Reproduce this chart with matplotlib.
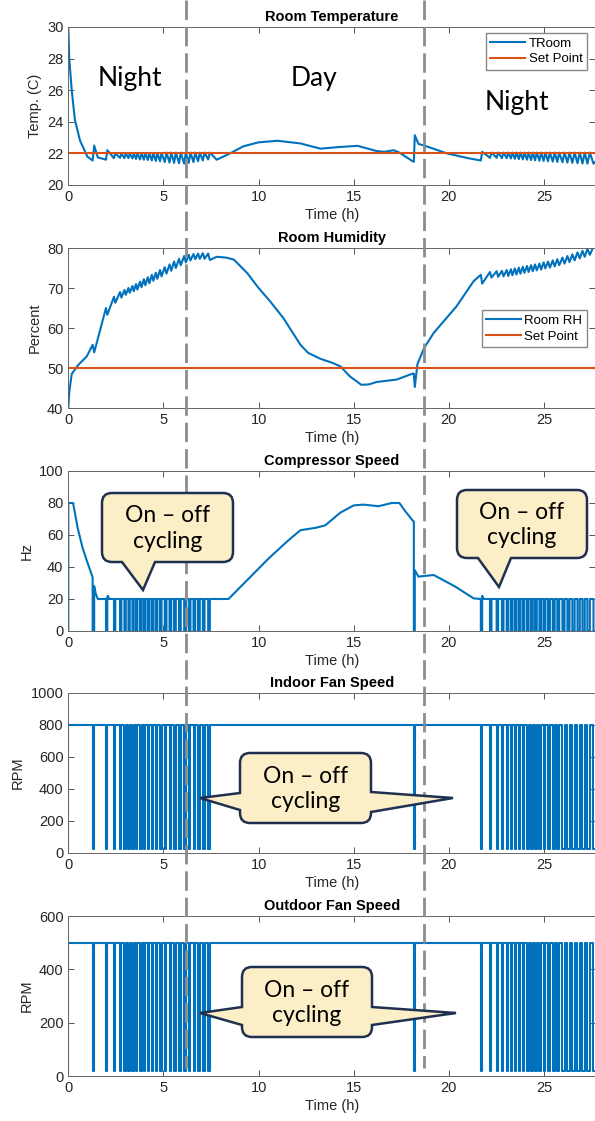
import numpy as np
import matplotlib
matplotlib.use('Agg')
import matplotlib.pyplot as plt
from matplotlib.path import Path
from matplotlib.patches import PathPatch
from matplotlib.lines import Line2D
import matplotlib.transforms as mtransforms

plt.rcParams['font.family'] = ['Liberation Sans', 'DejaVu Sans']

# ---- data ----
# off pulses of compressor / fans (start time h, off length h)
left_t = [1.28, 1.98, 2.40, 2.72, 2.95, 3.16, 3.37, 3.56, 3.77, 3.97, 4.18, 4.39,
          4.60, 4.82, 5.07, 5.32, 5.56, 5.82, 6.09, 6.33, 6.58, 6.82, 7.07, 7.35]
left_d = [0.08, 0.07, 0.07, 0.07, 0.07, 0.07, 0.07, 0.07, 0.08, 0.08, 0.08, 0.08,
          0.08, 0.08, 0.09, 0.09, 0.09, 0.09, 0.09, 0.09, 0.09, 0.09, 0.09, 0.09]
mid_t = [18.16]
mid_d = [0.05]
right_t = [21.68, 22.16, 22.51, 22.79, 23.04, 23.26, 23.47, 23.68, 23.89, 24.11, 24.32, 24.53,
           24.76, 24.98, 25.21, 25.46, 25.70, 25.97, 26.23, 26.49, 26.76, 27.02, 27.28, 27.60]
right_d = [0.07, 0.08, 0.08, 0.08, 0.08, 0.08, 0.08, 0.08, 0.08, 0.08, 0.09, 0.09,
           0.09, 0.09, 0.10, 0.10, 0.10, 0.11, 0.11, 0.12, 0.12, 0.12, 0.13, 0.20]

# room temperature: smooth parts, then value before / after each off pulse
temp_seg_t = [0, 0.05, 0.18, 0.35, 0.62, 1.0, 1.55,
              7.8, 8.5, 9.2, 10.0, 11.0, 12.2, 13.25, 14.2, 15.2, 16.2, 16.6, 17.1, 17.4, 18.1,
              18.4, 18.7, 19.9, 21.0, 27.8]
temp_seg_v = [30, 28, 26, 24.1, 22.8, 21.8, 21.75,
              21.6, 22.0, 22.45, 22.7, 22.8, 22.63, 22.3, 22.4, 22.48, 22.15, 22.1, 22.2, 22.05, 21.5,
              22.6, 22.5, 22.0, 21.7, 21.6]
temp_left_lo = [21.55, 21.6, 21.7, 21.72, 21.7, 21.7, 21.68, 21.65, 21.62, 21.6, 21.58, 21.55,
                21.52, 21.5, 21.45, 21.42, 21.4, 21.38, 21.35, 21.4, 21.45, 21.5, 21.55, 21.62]
temp_left_hi = [22.5, 22.2, 22.0, 22.0, 22.0, 22.0, 22.0, 22.0, 22.02, 22.02, 22.02, 22.02,
                22.02, 22.02, 22.05, 22.05, 22.05, 22.05, 22.05, 22.05, 22.05, 22.05, 22.05, 22.05]
temp_mid_lo = [21.47]
temp_mid_hi = [23.15]
temp_right_lo = [21.55, 21.72, 21.72, 21.7, 21.7, 21.68, 21.66, 21.64, 21.62, 21.6, 21.58, 21.56,
                 21.54, 21.52, 21.5, 21.48, 21.46, 21.44, 21.42, 21.4, 21.38, 21.36, 21.35, 21.35]
temp_right_hi = [22.1, 22.05, 22.05, 22.05, 22.05, 22.05, 22.05, 22.05, 22.05, 22.05, 22.05, 22.05,
                 22.05, 22.05, 22.05, 22.05, 22.05, 22.05, 22.05, 22.05, 22.05, 22.05, 22.05, 22.05]
temp_set = 22

# room humidity
rh_seg_t = [0, 0.05, 0.18, 0.53, 0.97,
            7.8, 8.3, 8.7, 9.4, 10.0, 10.6, 11.3, 11.8, 12.2, 12.6, 13.25, 13.9, 14.3, 14.8, 15.4,
            15.8, 16.2, 17.25, 18.1,
            18.35, 18.7, 19.2, 20.4, 21.3, 27.8]
rh_seg_v = [40, 44, 48.5, 50.8, 52.9,
            77.8, 77.6, 77.1, 73.75, 70.0, 66.7, 62.5, 58.8, 55.8, 53.8, 52.3, 51.25, 50.4, 47.9, 45.8,
            45.9, 46.5, 47.1, 48.6,
            51.0, 55.0, 58.75, 65.4, 71.7, 80.5]
rh_left_hi = [55.8, 65.0, 67.8, 69.0, 69.5, 70.0, 70.5, 71.0, 71.6, 72.2, 72.7, 73.3,
              73.8, 74.5, 75.2, 75.9, 76.6, 77.3, 78.0, 78.3, 78.5, 78.6, 78.7, 78.6]
rh_left_lo = [53.9, 63.3, 66.3, 67.6, 68.3, 68.8, 69.2, 69.6, 70.2, 70.7, 71.2, 71.8,
              72.3, 72.9, 73.6, 74.3, 75.0, 75.7, 76.4, 76.9, 77.2, 77.3, 77.3, 77.0]
rh_mid_hi = [48.6]
rh_mid_lo = [45.25]
rh_right_hi = [73.3, 74.0, 74.2, 74.3, 74.5, 74.7, 74.9, 75.1, 75.3, 75.5, 75.7, 75.9,
               76.1, 76.4, 76.6, 76.9, 77.2, 77.6, 78.0, 78.4, 78.9, 79.3, 79.8, 80.3]
rh_right_lo = [71.1, 72.6, 72.8, 72.9, 73.0, 73.2, 73.4, 73.6, 73.8, 74.0, 74.2, 74.4,
               74.6, 74.9, 75.1, 75.4, 75.7, 76.1, 76.5, 76.9, 77.4, 77.8, 78.3, 78.8]
rh_set = 50

# compressor speed while running (Hz)
comp_t = [0, 0.25, 0.5, 0.75, 1.0, 1.28, 1.36, 1.45, 1.55, 1.98, 2.08, 2.15,
          8.42, 9.5, 10.5, 11.5, 12.2, 13.0, 13.5, 14.3, 15.0, 15.5, 16.3, 17.0, 17.4, 17.7,
          18.1, 18.16, 18.21, 18.4, 19.2, 20.3, 21.3, 21.68, 21.75, 21.82, 27.8]
comp_v = [80, 80, 64, 52, 43, 33.5, 28, 23, 20, 20, 22, 20,
          20, 33, 45, 56, 63, 64.5, 66, 74, 78.5, 79, 78, 80, 80, 75,
          69, 68.5, 38, 34, 35, 28, 20.4, 20, 22, 20, 20]
comp_off = 0

# fans (RPM)
indoor_on, indoor_off = 800, 25
outdoor_on, outdoor_off = 500, 20

t_end = 27.68

BLUE = '#0072BD'
ORANGE = '#D95319'
W, H = 595, 1121


def pulse_list():
    ts = left_t + mid_t + right_t
    ds = left_d + mid_d + right_d
    return list(zip(ts, ds))


def build_pulsed(on_t, on_v, off_val):
    """Running curve with the off pulses cut into it."""
    pulses = pulse_list()
    out_t, out_v = [0.0], [off_val]
    k = 0
    last_end = -1
    for t, v in zip(on_t, on_v):
        while k < len(pulses) and pulses[k][0] <= t:
            ts, d = pulses[k]
            te = ts + d
            out_t += [ts, ts, te, te]
            out_v += [np.interp(ts, on_t, on_v), off_val, off_val, np.interp(te, on_t, on_v)]
            last_end = te
            k += 1
        if t > last_end:
            out_t.append(t)
            out_v.append(v)
    return np.array(out_t), np.array(out_v)


def build_zigzag(seg_t, seg_v, groups):
    pts = list(zip(seg_t, seg_v))
    for ts, ds, a, b in groups:
        for t, d, va, vb in zip(ts, ds, a, b):
            pts.append((t, va))
            pts.append((t + d, vb))
    pts.sort(key=lambda p: p[0])
    return np.array([p[0] for p in pts]), np.array([p[1] for p in pts])


def fx(x):
    return x / W


def fy(y):
    return 1 - y / H


def callout(fig, x0, y0, x1, y1, tails, r=10):
    """Rounded speech box in pixel coords (y down); tails: side -> (a, b, tipx, tipy)."""
    verts, codes = [], []

    def line(p):
        verts.append(p)
        codes.append(Path.LINETO)

    def curve(c, p):
        verts.extend([c, p])
        codes.extend([Path.CURVE3, Path.CURVE3])

    verts.append((x0 + r, y0))
    codes.append(Path.MOVETO)
    line((x1 - r, y0))
    curve((x1, y0), (x1, y0 + r))
    if 'right' in tails:
        a, b, tx, ty = tails['right']
        line((x1, a)); line((tx, ty)); line((x1, b))
    line((x1, y1 - r))
    curve((x1, y1), (x1 - r, y1))
    if 'bottom' in tails:
        a, b, tx, ty = tails['bottom']
        line((b, y1)); line((tx, ty)); line((a, y1))
    line((x0 + r, y1))
    curve((x0, y1), (x0, y1 - r))
    if 'left' in tails:
        a, b, tx, ty = tails['left']
        line((x0, b)); line((tx, ty)); line((x0, a))
    line((x0, y0 + r))
    curve((x0, y0), (x0 + r, y0))
    verts.append((x0 + r, y0))
    codes.append(Path.CLOSEPOLY)
    verts = [(fx(x), fy(y)) for x, y in verts]
    patch = PathPatch(Path(verts, codes), transform=fig.transFigure, facecolor='#FCEFC7',
                      edgecolor='#1F3050', linewidth=1.8, zorder=10, joinstyle='miter')
    fig.add_artist(patch)
    fig.text(fx((x0 + x1) / 2), fy((y0 + y1) / 2 + 1), 'On \u2013 off\ncycling', ha='center', va='center',
             fontsize=16.5, family=['Lato', 'DejaVu Sans'], linespacing=1.25, zorder=11)


def style_axes(ax, ylim, yticks, ylabel, title):
    ax.set_xlim(0, t_end)
    ax.set_ylim(*ylim)
    ax.set_xticks([0, 5, 10, 15, 20, 25])
    ax.set_yticks(yticks)
    ax.set_xlabel('Time (h)', fontsize=10.5, color='#262626', labelpad=3)
    ax.set_ylabel(ylabel, fontsize=10.5, color='#262626')
    ax.set_title(title, fontsize=10.5, fontweight='bold', pad=4)
    ax.tick_params(direction='in', top=True, right=True, labelsize=10.5, length=4,
                   color='#555555', labelcolor='#262626', width=0.7)
    for s in ax.spines.values():
        s.set_color('#666666')
        s.set_linewidth(0.7)


fig = plt.figure(figsize=(W / 100, H / 100), dpi=100)
ax_left = 68.3 / W
ax_w = 1 - ax_left
tops = [27, 248, 471, 693, 916]
bots = [185, 408, 631, 853, 1076]
axes = [fig.add_axes([ax_left, fy(b), ax_w, (b - t) / H]) for t, b in zip(tops, bots)]
ax1, ax2, ax3, ax4, ax5 = axes
LW = 1.5
leg_kw = dict(fontsize=9.5, frameon=True, fancybox=False, edgecolor='#888888', framealpha=1,
              handlelength=2.6, handletextpad=0.3, borderaxespad=0, labelspacing=0.25,
              borderpad=0.35)

# room temperature
tt, tv = build_zigzag(temp_seg_t, temp_seg_v,
                      [(left_t, left_d, temp_left_lo, temp_left_hi),
                       (mid_t, mid_d, temp_mid_lo, temp_mid_hi),
                       (right_t, right_d, temp_right_lo, temp_right_hi)])
ax1.plot(tt, tv, color=BLUE, lw=LW, label='TRoom')
ax1.plot([0, 28], [temp_set, temp_set], color=ORANGE, lw=LW, label='Set Point')
style_axes(ax1, (20, 30), [20, 22, 24, 26, 28, 30], 'Temp. (C)', 'Room Temperature')
ax1.legend(loc='upper right', bbox_to_anchor=(0.985, 0.962), **leg_kw)
lato = ['Lato', 'DejaVu Sans']
ax1.text(3.25, 26.77, 'Night', fontsize=19, family=lato, ha='center', va='center')
ax1.text(12.93, 26.77, 'Day', fontsize=19, family=lato, ha='center', va='center')
ax1.text(23.6, 25.2, 'Night', fontsize=19, family=lato, ha='center', va='center')

# room humidity
ht, hv = build_zigzag(rh_seg_t, rh_seg_v,
                      [(left_t, left_d, rh_left_hi, rh_left_lo),
                       (mid_t, mid_d, rh_mid_hi, rh_mid_lo),
                       (right_t, right_d, rh_right_hi, rh_right_lo)])
ax2.plot(ht, hv, color=BLUE, lw=LW, label='Room RH')
ax2.plot([0, 28], [rh_set, rh_set], color=ORANGE, lw=LW, label='Set Point')
style_axes(ax2, (40, 80), [40, 50, 60, 70, 80], 'Percent', 'Room Humidity')
ax2.legend(loc='lower right', bbox_to_anchor=(0.985, 0.38), **leg_kw)

# compressor
ct, cv = build_pulsed(comp_t, comp_v, comp_off)
ax3.plot(ct, cv, color=BLUE, lw=LW)
style_axes(ax3, (0, 100), [0, 20, 40, 60, 80, 100], 'Hz', 'Compressor Speed')

# indoor fan
it, iv = build_pulsed([0, 28], [indoor_on, indoor_on], indoor_off)
ax4.plot(it, iv, color=BLUE, lw=LW)
style_axes(ax4, (0, 1000), [0, 200, 400, 600, 800, 1000], 'RPM', 'Indoor Fan Speed')

# outdoor fan
ot, ov = build_pulsed([0, 28], [outdoor_on, outdoor_on], outdoor_off)
ax5.plot(ot, ov, color=BLUE, lw=LW)
style_axes(ax5, (0, 600), [0, 200, 400, 600], 'RPM', 'Outdoor Fan Speed')

# day / night boundaries across all panels
trans = mtransforms.blended_transform_factory(ax1.transData, fig.transFigure)
for xb in [6.16, 18.7]:
    fig.add_artist(Line2D([xb, xb], [1.0, fy(1068)], transform=trans, color='#8C8C8C', lw=2,
                          linestyle=(0, (7, 2.5)), zorder=5))

callout(fig, 102, 493, 233, 562, {'bottom': (122, 155, 143, 590)})
callout(fig, 457, 490, 587, 558, {'bottom': (478, 511, 499, 587)})
callout(fig, 240, 753, 371, 823, {'left': (793, 810, 200, 798), 'right': (792, 812, 453, 798)})
callout(fig, 242, 967, 372, 1037, {'left': (1007, 1025, 200, 1013), 'right': (1007, 1025, 456, 1013)})

fig.savefig('out.png', dpi=100)
